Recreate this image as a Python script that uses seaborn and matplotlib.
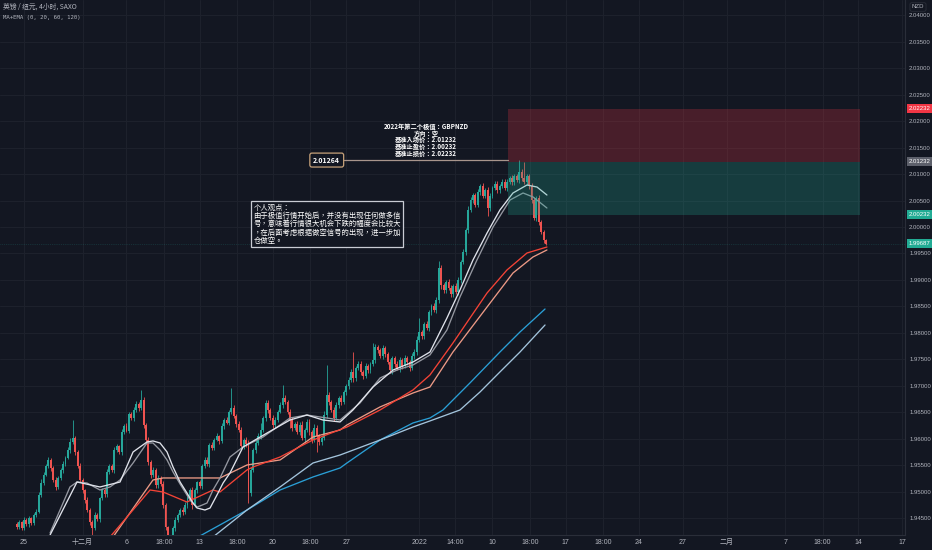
import numpy as np
import pandas as pd
import seaborn as sns
import matplotlib.pyplot as plt
import matplotlib.transforms as mtransforms

# GBPNZD 4h candles, x = trading days counted from 25 Nov 2021 (weekends removed)
first_open = 1.9440
closes = [
    1.9433, 1.9443, 1.9432, 1.9447, 1.9439, 1.9450, 1.9441, 1.9456, 1.9462, 1.9494,
    1.9517, 1.9532, 1.9549, 1.9560, 1.9545, 1.9522, 1.9509, 1.9526, 1.9541, 1.9553,
    1.9564, 1.9579, 1.9594, 1.9602, 1.9575, 1.9549, 1.9522, 1.9503, 1.9484, 1.9466,
    1.9443, 1.9432, 1.9456, 1.9448, 1.9488, 1.9503, 1.9495, 1.9537, 1.9549, 1.9541,
    1.9579, 1.9586, 1.9575, 1.9613, 1.9624, 1.9615, 1.9647, 1.9639, 1.9654, 1.9666,
    1.9658, 1.9673, 1.9626, 1.9598, 1.9556, 1.9532, 1.9541, 1.9513, 1.9526, 1.9515,
    1.9475, 1.9433, 1.9399, 1.9413, 1.9432, 1.9447, 1.9456, 1.9466, 1.9462, 1.9475,
    1.9488, 1.9503, 1.9475, 1.9503, 1.9518, 1.9510, 1.9549, 1.9560, 1.9552, 1.9588,
    1.9583, 1.9598, 1.9605, 1.9596, 1.9624, 1.9636, 1.9630, 1.9651, 1.9658, 1.9643,
    1.9628, 1.9617, 1.9586, 1.9598, 1.9590, 1.9498, 1.9541, 1.9579, 1.9592, 1.9605,
    1.9617, 1.9639, 1.9668, 1.9654, 1.9639, 1.9626, 1.9636, 1.9651, 1.9664, 1.9677,
    1.9669, 1.9651, 1.9636, 1.9621, 1.9628, 1.9613, 1.9626, 1.9602, 1.9617, 1.9632,
    1.9613, 1.9598, 1.9621, 1.9605, 1.9594, 1.9602, 1.9645, 1.9683, 1.9669, 1.9654,
    1.9639, 1.9664, 1.9677, 1.9669, 1.9688, 1.9699, 1.9711, 1.9726, 1.9714, 1.9733,
    1.9741, 1.9726, 1.9718, 1.9737, 1.9730, 1.9741, 1.9749, 1.9773, 1.9767, 1.9756,
    1.9771, 1.9760, 1.9745, 1.9730, 1.9752, 1.9741, 1.9733, 1.9749, 1.9737, 1.9752,
    1.9745, 1.9733, 1.9756, 1.9764, 1.9786, 1.9801, 1.9794, 1.9817, 1.9810, 1.9839,
    1.9851, 1.9843, 1.9862, 1.9923, 1.9890, 1.9881, 1.9896, 1.9885, 1.9873, 1.9888,
    1.9877, 1.9900, 1.9934, 1.9953, 1.9994, 2.0032, 2.0051, 2.0060, 2.0042, 2.0066,
    2.0077, 2.0059, 2.0070, 2.0036, 2.0059, 2.0074, 2.0081, 2.0070, 2.0077, 2.0085,
    2.0074, 2.0085, 2.0093, 2.0085, 2.0096, 2.0089, 2.0104, 2.0093, 2.0085, 2.0096,
    2.0077, 2.0051, 2.0017, 2.0055, 2.0009, 1.9991, 1.9975, 1.99687,
]
upper_wick_pips = [
    3, 4, 2, 5, 3, 4, 3, 4, 5, 6,
    8, 5, 4, 6, 3, 4, 5, 3, 4, 5,
    4, 6, 8, 34, 4, 3, 5, 4, 3, 6,
    4, 3, 5, 4, 3, 5, 4, 6, 3, 4,
    5, 4, 3, 6, 4, 5, 3, 4, 6, 5,
    4, 19, 5, 4, 6, 4, 5, 3, 6, 4,
    5, 4, 3, 6, 4, 5, 3, 4, 5, 6,
    4, 5, 6, 4, 3, 5, 4, 6, 5, 4,
    6, 4, 5, 3, 6, 4, 5, 4, 38, 5,
    4, 6, 5, 4, 6, 8, 5, 4, 6, 5,
    12, 4, 6, 5, 4, 6, 5, 4, 6, 24,
    5, 4, 6, 5, 4, 6, 5, 8, 4, 6,
    5, 4, 6, 5, 4, 6, 8, 56, 5, 4,
    6, 5, 4, 6, 5, 4, 6, 5, 38, 4,
    6, 5, 4, 6, 5, 4, 32, 6, 5, 4,
    6, 5, 4, 6, 5, 4, 6, 5, 4, 6,
    5, 4, 6, 5, 8, 28, 5, 4, 6, 5,
    4, 6, 5, 12, 6, 5, 4, 6, 5, 4,
    6, 5, 4, 6, 5, 8, 6, 5, 4, 6,
    5, 6, 4, 5, 6, 4, 5, 6, 4, 5,
    6, 5, 4, 6, 5, 4, 22, 6, 29, 5,
    4, 6, 5, 4, 6, 5, 4, 3,
]
lower_wick_pips = [
    4, 3, 5, 4, 3, 5, 4, 3, 4, 3,
    4, 5, 3, 4, 5, 4, 6, 4, 3, 5,
    4, 3, 5, 4, 6, 5, 4, 6, 5, 4,
    6, 14, 5, 4, 6, 3, 4, 5, 4, 3,
    5, 4, 3, 5, 4, 3, 5, 4, 6, 4,
    5, 4, 6, 8, 5, 6, 4, 5, 6, 4,
    5, 6, 9, 5, 4, 6, 5, 4, 5, 4,
    6, 5, 8, 4, 5, 3, 4, 5, 4, 6,
    5, 4, 3, 5, 4, 6, 3, 4, 5, 4,
    6, 5, 4, 6, 5, 19, 6, 4, 5, 4,
    5, 4, 6, 5, 4, 6, 5, 4, 3, 5,
    4, 5, 15, 6, 5, 4, 6, 5, 8, 4,
    5, 6, 4, 30, 5, 6, 4, 5, 6, 4,
    5, 4, 6, 5, 4, 6, 5, 4, 6, 5,
    4, 6, 5, 4, 6, 5, 4, 6, 5, 4,
    6, 5, 4, 6, 8, 5, 4, 6, 5, 4,
    6, 5, 4, 6, 5, 4, 6, 5, 4, 6,
    5, 4, 6, 5, 8, 6, 5, 4, 6, 5,
    4, 6, 5, 4, 6, 5, 4, 6, 5, 4,
    6, 5, 4, 15, 6, 5, 4, 6, 5, 4,
    5, 6, 4, 5, 6, 4, 5, 6, 4, 5,
    6, 5, 4, 6, 5, 4, 5, 3,
]
first_bar_day = -0.5
bars_per_day = 6

# moving averages (day, price)
ma20_days = [1.78, 3.14, 3.62, 4.30, 5.19, 5.87, 6.56, 7.45, 8.40, 8.81, 9.29, 9.77, 10.18,
             10.66, 11.13, 11.34, 11.82, 12.02, 12.50, 12.91, 13.39, 14.07, 14.96, 16.33,
             18.17, 19.33, 20.22, 21.59, 22.95, 24.32, 25.48, 26.57, 27.73, 28.89, 29.78,
             30.94, 32.04, 33.20, 34.09, 34.77, 35.72]
ma20_price = [1.94221, 1.95090, 1.95184, 1.95165, 1.95033, 1.95090, 1.95222, 1.95543, 1.95921,
              1.95921, 1.95788, 1.95600, 1.95373, 1.95146, 1.94938, 1.94844, 1.94712, 1.94731,
              1.94787, 1.95033, 1.95260, 1.95656, 1.95845, 1.96034, 1.96393, 1.96449, 1.96412,
              1.96355, 1.96676, 1.97148, 1.97299, 1.97394, 1.97583, 1.98055, 1.98678, 1.99377,
              2.00000, 2.00510, 2.00642, 2.00567, 2.00359]
ema20_days = [1.78, 3.62, 5.19, 6.56, 7.45, 8.40, 8.81, 9.29, 9.77, 10.18, 10.66, 11.13, 11.54,
              11.82, 12.36, 12.71, 13.18, 13.60, 14.07, 14.96, 16.60, 18.17, 19.33, 20.42,
              21.59, 22.47, 23.84, 25.21, 26.57, 27.73, 28.89, 29.78, 30.67, 31.63, 32.51,
              33.40, 34.36, 35.04, 35.72]
ema20_price = [1.94183, 1.95184, 1.95090, 1.95184, 1.95751, 1.95940, 1.95959, 1.95921, 1.95751,
               1.95467, 1.95184, 1.94976, 1.94787, 1.94693, 1.94655, 1.94693, 1.94938, 1.95165,
               1.95354, 1.95845, 1.96109, 1.96355, 1.96449, 1.96355, 1.96318, 1.96544, 1.96978,
               1.97299, 1.97450, 1.97639, 1.98281, 1.98810, 1.99377, 1.99887, 2.00321, 2.00642,
               2.00793, 2.00755, 2.00604]
ema60_days = [5.87, 8.61, 9.50, 11.13, 12.91, 13.39, 15.23, 15.64, 17.49, 19.33, 19.74, 22.06,
              24.32, 26.57, 27.73, 29.30, 31.63, 32.99, 34.36, 35.72]
ema60_price = [1.94145, 1.95033, 1.94995, 1.94806, 1.95033, 1.94995, 1.95411, 1.95467, 1.95656,
               1.95921, 1.95977, 1.96223, 1.96544, 1.96922, 1.97205, 1.97809, 1.98754, 1.99188,
               1.99509, 1.99622]
ma60_days = [6.08, 8.81, 9.50, 13.39, 15.23, 17.49, 19.74, 21.59, 22.06, 24.32, 26.57, 27.73,
             29.30, 31.63, 33.40, 34.77, 35.72]
ma60_price = [1.94145, 1.95222, 1.95260, 1.95260, 1.95505, 1.95600, 1.96034, 1.96166, 1.96261,
              1.96601, 1.96865, 1.96978, 1.97639, 1.98489, 1.99131, 1.99434, 1.99566]
ema120_days = [11.89, 15.23, 17.49, 19.74, 21.59, 22.06, 24.32, 26.57, 27.73, 28.62, 30.46,
               32.51, 33.88, 35.59]
ema120_price = [1.94145, 1.94655, 1.95033, 1.95279, 1.95449, 1.95543, 1.95977, 1.96299, 1.96393,
                1.96544, 1.97054, 1.97639, 1.98017, 1.98451]
ma120_days = [12.91, 15.23, 17.49, 19.74, 21.59, 24.32, 26.57, 27.73, 29.78, 31.15, 32.51,
              33.88, 35.59]
ma120_price = [1.94145, 1.94655, 1.95090, 1.95543, 1.95694, 1.95977, 1.96223, 1.96337, 1.96544,
               1.96884, 1.97262, 1.97639, 1.98149]

# position tool (short)
stop_price = 2.02232
entry_price = 2.01232
target_price = 2.00232
zone_start_day = 33.06
zone_end_day = 57.1
callout_price = 2.01264

tick_days = [0, 4, 7, 9.55, 12, 14.55, 17, 19.55, 22, 27, 29.45, 32, 34.55, 37, 39.55,
             42, 45, 48, 52, 54.55, 57, 60]
tick_labels = ['25', '十二月', '6', '18:00', '13', '18:00', '20', '18:00', '27', '2022',
               '14:00', '10', '18:00', '17', '18:00', '24', '27', '二月', '7', '18:00', '14', '17']

plan_lines = ['2022年第二个极值：GBPNZD', '方向：空', '基准入场价：2.01232',
              '基准止盈价：2.00232', '基准止损价：2.02232']
view_text = ('个人观点：\n由于极值行情开始后，并没有出现任何做多信\n'
             '号，意味着行情很大机会下跌的幅度会比较大\n'
             '，在后面考虑根据做空信号的出现，进一步加\n仓做空。')

bg = '#131722'
grid_c = '#1e222d'
text_c = '#b2b5be'
up_c = '#26a69a'
down_c = '#ef5350'
num_font = ['Liberation Sans', 'Noto Sans CJK TC']

sns.set_style('dark')
plt.rcParams['font.family'] = ['Noto Sans CJK TC', 'DejaVu Sans']

closes = np.array(closes)
opens = np.concatenate([[first_open], closes[:-1]])
highs = np.maximum(opens, closes) + np.array(upper_wick_pips) * 0.0001
lows = np.minimum(opens, closes) - np.array(lower_wick_pips) * 0.0001
x = first_bar_day + np.arange(len(closes)) / bars_per_day

fig = plt.figure(figsize=(9.32, 5.5), dpi=100, facecolor=bg)
ax = fig.add_axes([0, 15 / 550, 905 / 932, 535 / 550])
ax.set_facecolor(bg)

up = closes >= opens
cols = np.where(up, up_c, down_c)
ax.vlines(x, lows, highs, colors=cols, linewidth=0.6, zorder=2)
body_bottom = np.minimum(opens, closes)
body_h = np.maximum(np.abs(closes - opens), 0.00006)
ax.bar(x, body_h, bottom=body_bottom, width=0.13, color=cols, linewidth=0, zorder=3)

ma_lines = [
    (ema120_days, ema120_price, '#2a9fd6'),
    (ma120_days, ma120_price, '#a3c4dc'),
    (ma60_days, ma60_price, '#ec9a86'),
    (ema60_days, ema60_price, '#f44336'),
    (ma20_days, ma20_price, '#9598a1'),
    (ema20_days, ema20_price, '#e0e3eb'),
]
for d, p, c in ma_lines:
    sns.lineplot(x=d, y=p, ax=ax, color=c, linewidth=0.95, zorder=4)

# risk / reward zones
ax.fill_between([zone_start_day, zone_end_day], entry_price, stop_price,
                color='#f23645', alpha=0.24, linewidth=0, zorder=5)
ax.fill_between([zone_start_day, zone_end_day], target_price, entry_price,
                color='#22ab94', alpha=0.25, linewidth=0, zorder=5)

# last price line
ax.axhline(closes[-1], color=up_c, linewidth=0.5, linestyle=':', alpha=0.35, zorder=1)

# callout with the high
ax.plot([21.85, zone_start_day], [callout_price, callout_price], color='#a8958c',
        linewidth=0.9, zorder=6)
ax.text(20.68, callout_price, f'{callout_price:.5f}', ha='center', va='center',
        fontsize=5.0, color='white', fontweight='bold', zorder=7,
        bbox=dict(boxstyle='round,pad=0.5,rounding_size=0.3', fc=bg, ec='#c7a27a', lw=0.9))

# trade plan, one line every 7 px above the callout level
for i, line in enumerate(plan_lines):
    ax.annotate(line, xy=(27.46, 2.0134), xytext=(0, 4.95 * (len(plan_lines) - 1 - i)),
                textcoords='offset points', ha='center', va='baseline', fontsize=4.5,
                color='white', fontweight='bold', zorder=7)

ax.text(15.68, 2.0044, view_text, ha='left', va='top', fontsize=5.3, color='white',
        linespacing=1.05, zorder=7,
        bbox=dict(boxstyle='square,pad=0.3', fc=bg, ec='#c9ccd4', lw=0.9))

# axes styling
ax.set_xlim(-1.64, 60.18)
ax.set_ylim(1.94183, 2.04287)
ax.set_xticks(tick_days)
ax.set_xticklabels(tick_labels)
yt = np.arange(1.945, 2.0401, 0.005)
ax.set_yticks(yt)
ax.set_yticklabels([f'{v:.5f}' for v in yt], family=num_font)
for lab in ax.get_xticklabels():
    lab.set_family(num_font)
ax.yaxis.tick_right()
ax.tick_params(axis='x', length=0, labelsize=5.0, colors=text_c, pad=3)
ax.tick_params(axis='y', length=0, labelsize=4.3, colors=text_c, pad=3)
ax.grid(True, color=grid_c, linewidth=0.7)
ax.set_axisbelow(True)
ax.set_xlabel('')
ax.set_ylabel('')
for s in ['top', 'left']:
    ax.spines[s].set_visible(False)
for s in ['bottom', 'right']:
    ax.spines[s].set_color('#2a2e39')
    ax.spines[s].set_linewidth(0.8)

# price tags on the scale
tag_prices = [stop_price, entry_price, target_price, closes[-1]]
tag_colors = ['#f23645', '#5d606b', '#22ab94', '#22ab94']
trans = mtransforms.blended_transform_factory(ax.transAxes, ax.transData)
for p, c in zip(tag_prices, tag_colors):
    ax.text(1.004, p, f'{p:.5f}', transform=trans, ha='left', va='center', fontsize=4.3,
            color='white', clip_on=False, zorder=10, family=num_font,
            bbox=dict(boxstyle='square,pad=0.35', fc=c, ec='none'))

fig.text(918 / 932, 1 - 7 / 550, 'NZD', ha='center', va='center', fontsize=4.3, color=text_c,
         family=num_font,
         bbox=dict(boxstyle='round,pad=0.3', fc=bg, ec='#2a2e39', lw=0.6))
fig.text(3 / 932, 1 - 7 / 550, '英镑 / 纽元, 4小时, SAXO', ha='left', va='center',
         fontsize=4.9, color=text_c)
fig.text(3 / 932, 1 - 18 / 550, 'MA+EMA (0, 20, 60, 120)', ha='left', va='center',
         fontsize=4.1, color=text_c, family='DejaVu Sans Mono')

fig.savefig('out.png', dpi=100, facecolor=bg)
